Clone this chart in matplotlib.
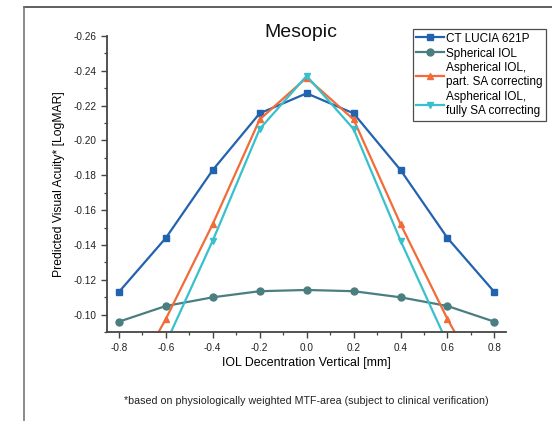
import matplotlib

matplotlib.use("Agg")

import matplotlib.pyplot as plt
from matplotlib.lines import Line2D
from matplotlib.ticker import MultipleLocator, FormatStrFormatter

plt.rcParams["font.family"] = ["Liberation Sans", "DejaVu Sans"]

# decentration positions [mm]
decentration = [-0.8, -0.6, -0.4, -0.2, 0.0, 0.2, 0.4, 0.6, 0.8]

# predicted visual acuity [LogMAR]
ct_lucia = [-0.113, -0.144, -0.183, -0.2155, -0.227, -0.2155, -0.183, -0.144, -0.113]
spherical = [-0.096, -0.105, -0.110, -0.1135, -0.1142, -0.1135, -0.110, -0.105, -0.096]
asph_part = [-0.049, -0.0975, -0.152, -0.212, -0.236, -0.212, -0.152, -0.0975, -0.049]
asph_full = [-0.040, -0.0835, -0.1425, -0.2065, -0.237, -0.2065, -0.1425, -0.0835, -0.040]

series = [
    ("CT LUCIA 621P", ct_lucia, "#2263b0", "s"),
    ("Spherical IOL", spherical, "#4a7e80", "o"),
    ("Aspherical IOL,\npart. SA correcting", asph_part, "#f26b38", "^"),
    ("Aspherical IOL,\nfully SA correcting", asph_full, "#38c0cc", "v"),
]

fig = plt.figure(figsize=(5.52, 4.21), dpi=100)
ax = fig.add_axes([0.194, 0.211, 0.723, 0.704])

handles = []
for label, values, color, marker in series:
    (line,) = ax.plot(decentration, values, color=color, marker=marker,
                      markersize=5, linewidth=1.6, label=label)
    handles.append(line)

ax.set_xlim(-0.85, 0.85)
ax.set_ylim(-0.09, -0.26)
ax.xaxis.set_major_locator(MultipleLocator(0.2))
ax.xaxis.set_minor_locator(MultipleLocator(0.1))
ax.yaxis.set_major_locator(MultipleLocator(0.02))
ax.yaxis.set_minor_locator(MultipleLocator(0.01))
ax.xaxis.set_major_formatter(FormatStrFormatter("%.1f"))
ax.yaxis.set_major_formatter(FormatStrFormatter("%.2f"))

for side in ("top", "right"):
    ax.spines[side].set_visible(False)
for side in ("left", "bottom"):
    ax.spines[side].set_linewidth(1.3)
    ax.spines[side].set_color("#444444")

ax.tick_params(which="major", direction="out", length=4, width=1.0,
               labelsize=7.2, colors="#444444", labelcolor="#222222")
ax.tick_params(which="minor", direction="out", length=2.5, width=0.9,
               colors="#444444")

ax.text(0.485, 0.997, "Mesopic", transform=ax.transAxes, ha="center",
        va="baseline", fontsize=14, color="#111111")
ax.set_xlabel("IOL Decentration Vertical [mm]", fontsize=8.9, labelpad=3)
ax.set_ylabel("Predicted Visual Acuity* [LogMAR]", fontsize=8.7, labelpad=6)

leg = fig.legend(handles=handles, loc="upper left",
                 bbox_to_anchor=(0.748, 0.931), fontsize=8.5,
                 frameon=True, fancybox=False, handlelength=2.3,
                 handletextpad=0.2, borderpad=0.3, labelspacing=0.25,
                 borderaxespad=0)
leg.get_frame().set_edgecolor("#222222")
leg.get_frame().set_linewidth(0.9)

fig.text(0.555, 0.047, "*based on physiologically weighted MTF-area (subject to clinical verification)",
         ha="center", va="center", fontsize=7.7, color="#222222")

# page border lines (top and left edge of the cropped frame)
fig.add_artist(Line2D([0.044, 1.0], [0.983, 0.983], transform=fig.transFigure,
                      color="#444444", linewidth=1.2))
fig.add_artist(Line2D([0.044, 0.044], [0.0, 0.983], transform=fig.transFigure,
                      color="#777777", linewidth=1.2))

fig.savefig("out.png", dpi=100)
